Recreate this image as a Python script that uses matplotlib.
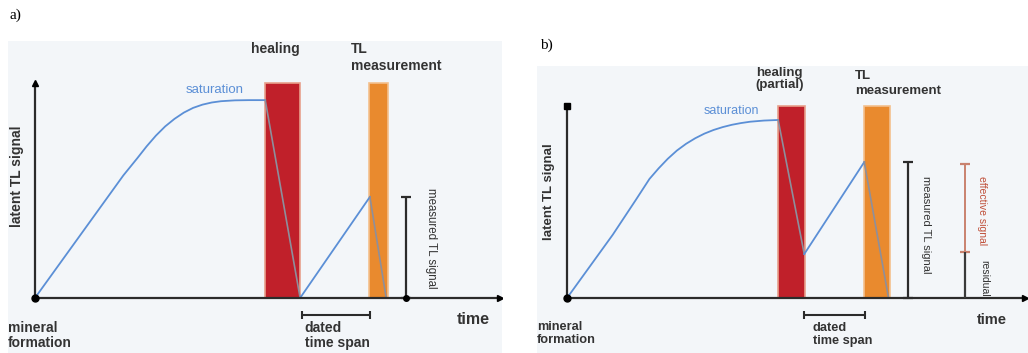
import matplotlib
matplotlib.use("Agg")
import matplotlib.pyplot as plt

W, H = 1028, 353
fig = plt.figure(figsize=(W / 100, H / 100), dpi=100)
fig.patch.set_facecolor("white")

SANS = ["Liberation Sans", "DejaVu Sans"]
SERIF = ["Liberation Serif", "DejaVu Serif"]

BG = "#f3f6f9"
RED = "#c0202a"
ORANGE = "#e98a2e"
BLUE = "#5b8fd6"
GRAY = "#8d8f9c"
DARK = "#2b2b2b"
TXT = "#333333"

# ---------------- data (time units 0..100, signal units 0..100) ----------------
# panel a
a_growth_t = [0, 5, 10, 15, 19, 22, 24, 26, 28, 30, 32, 34, 36, 38, 40, 43, 46, 49.5]
a_growth_s = [0, 15, 30, 45, 57, 65, 70.5, 75.5, 79.8, 83.3, 86.2, 88.4, 89.9, 90.9,
              91.5, 91.9, 92, 92]
a_heat = (49.5, 57.0)          # heating bar start/end
a_meas = (71.8, 75.9)          # TL measurement bar start/end
a_heat_drop = [(49.5, 92), (57.0, 0)]
a_regrowth = [(57.0, 0), (72.0, 47)]
a_meas_drop = [(72.0, 47), (75.5, 0)]
a_measured_signal = 47
a_measured_x = 79.8

# panel b
b_growth_t = [0, 5, 10, 15, 18, 20, 22, 24, 26, 28, 30, 32, 34, 36, 38, 40, 43, 46.1]
b_growth_s = [0, 16.5, 33, 51, 62, 67.5, 72.5, 76.8, 80.3, 83.2, 85.6, 87.5, 89.0,
              90.2, 91.1, 91.8, 92.4, 92.7]
b_heat = (46.1, 52.0)
b_meas = (64.8, 70.5)
b_heat_drop = [(46.1, 92.7), (51.8, 22.9)]
b_regrowth = [(51.8, 22.9), (64.9, 70.8)]
b_meas_drop = [(64.9, 70.8), (70.2, 0)]
b_measured_signal = 70.8
b_measured_x = 74.5
b_residual = 24
b_effective_top = 69.8
b_effective_x = 86.9


def panel_axes(px0, py0, px1, py1, xlim, ylim):
    ax = fig.add_axes([px0 / W, 1 - py1 / H, (px1 - px0) / W, (py1 - py0) / H])
    ax.set_xlim(*xlim)
    ax.set_ylim(*ylim)
    ax.set_facecolor(BG)
    for s in ax.spines.values():
        s.set_visible(False)
    ax.set_xticks([])
    ax.set_yticks([])
    return ax


def draw_common(ax, growth_t, growth_s, heat, meas, heat_drop, regrowth, meas_drop,
                ytop_marker):
    ax.bar((heat[0] + heat[1]) / 2, 100, width=heat[1] - heat[0], bottom=0,
           color=RED, edgecolor="#e8a08c", linewidth=1.2, zorder=2)
    ax.bar((meas[0] + meas[1]) / 2, 100, width=meas[1] - meas[0], bottom=0,
           color=ORANGE, edgecolor="#f3c08e", linewidth=1.2, zorder=2)
    ax.plot([0, 100], [0, 0], color=DARK, lw=1.6, zorder=4, solid_capstyle="butt")
    ax.plot([0, 0], [0, 100], color=DARK, lw=1.6, zorder=4, solid_capstyle="butt")
    ax.plot([100], [0], marker=">", color="black", ms=5, zorder=5)
    ax.plot([0], [100], marker=ytop_marker, color="black", ms=5, zorder=5)
    ax.plot([0], [0], marker="o", color="black", ms=5, zorder=5)
    ax.plot(growth_t, growth_s, color=BLUE, lw=1.3, zorder=3)
    ax.plot(*zip(*heat_drop), color=GRAY, lw=1.2, zorder=3)
    ax.plot(*zip(*regrowth), color=BLUE, lw=1.3, zorder=3)
    ax.plot(*zip(*meas_drop), color=GRAY, lw=1.2, zorder=3)


def ibar(ax, x, y0, y1, color, lw=1.6, caps=(True, True)):
    ax.plot([x, x], [y0, y1], color=color, lw=lw, zorder=4, solid_capstyle="butt")
    if caps[1]:
        ax.plot([x], [y1], marker="_", ms=7, mew=1.6, color=color, zorder=4)
    if caps[0]:
        ax.plot([x], [y0], marker="_", ms=7, mew=1.6, color=color, zorder=4)


def bracket(ax, t0, t1, y):
    ax.plot([t0, t1], [y, y], color=DARK, lw=1.5, solid_capstyle="butt")
    ax.plot([t0, t1], [y, y], marker="|", ms=6, mew=1.5, color=DARK, lw=0)


def label(ax, x, y, s, size=10, **kw):
    kw.setdefault("color", TXT)
    kw.setdefault("fontweight", "bold")
    ax.text(x, y, s, fontsize=size, family=SANS, **kw)


# ---------------- panel a ----------------
axa = panel_axes(8, 41, 502, 353, (-5.8, 100.4), (-25.6, 119.5))
draw_common(axa, a_growth_t, a_growth_s, a_heat, a_meas, a_heat_drop, a_regrowth,
            a_meas_drop, "^")
ibar(axa, a_measured_x, 0, a_measured_signal, DARK)
axa.plot([a_measured_x], [0], marker="o", ms=4, color="black", zorder=5)
label(axa, 85.2, 27.9, "measured TL signal", size=8.3, rotation=270, ha="center",
      va="center", fontweight="normal")
label(axa, 46.5, 119.0, "healing", ha="left", va="top")
label(axa, 67.9, 119.0, "TL\nmeasurement", ha="left", va="top", linespacing=1.3)
label(axa, 38.7, 96.9, "saturation", size=9.5, ha="center", va="center", color=BLUE,
      fontweight="normal")
label(axa, -3.9, 56.5, "latent TL signal", rotation=90, ha="center", va="center")
label(axa, -5.9, -10.8, "mineral\nformation", ha="left", va="top", linespacing=1.1)
label(axa, 58.0, -10.8, "dated\ntime span", ha="left", va="top", linespacing=1.1)
label(axa, 90.6, -10.0, "time", size=11.5, ha="left", va="center")
bracket(axa, 57.5, 72.0, -8.0)

# ---------------- panel b ----------------
axb = panel_axes(537, 66, 1028, 353, (-6.55, 100.65), (-28.6, 120.8))
draw_common(axb, b_growth_t, b_growth_s, b_heat, b_meas, b_heat_drop, b_regrowth,
            b_meas_drop, "s")
ibar(axb, b_measured_x, 0, b_measured_signal, DARK)
ibar(axb, b_effective_x, b_residual, b_effective_top, "#c9826f", lw=1.4)
ibar(axb, b_effective_x, 0, b_residual, "#3a3a3a", caps=(False, False))
label(axb, 78.3, 38, "measured TL signal", size=8.0, rotation=270, ha="center",
      va="center", fontweight="normal")
label(axb, 90.6, 45.8, "effective signal", size=7.5, rotation=270, ha="center",
      va="center", color="#c0503a", fontweight="normal")
label(axb, 91.0, 10.4, "residual", size=7.5, rotation=270, ha="center", va="center",
      fontweight="normal")
label(axb, 41.2, 120.3, "healing\n(partial)", size=9.5, ha="left", va="top",
      linespacing=1.05)
label(axb, 62.8, 118.9, "TL\nmeasurement", size=9.5, ha="left", va="top",
      linespacing=1.35)
label(axb, 36.0, 97.2, "saturation", size=9, ha="center", va="center", color=BLUE,
      fontweight="normal")
label(axb, -3.9, 55.5, "latent TL signal", size=9.5, rotation=90, ha="center",
      va="center")
label(axb, -6.5, -12.0, "mineral\nformation", size=9.2, ha="left", va="top",
      linespacing=1.15)
label(axb, 53.7, -12.5, "dated\ntime span", size=9.2, ha="left", va="top",
      linespacing=1.15)
label(axb, 89.5, -11.5, "time", size=10.5, ha="left", va="center")
bracket(axb, 51.8, 65.0, -9.0)

# panel letters
fig.text(10 / W, 1 - 15 / H, "a)", ha="left", va="center", fontsize=11, family=SERIF)
fig.text(540 / W, 1 - 45 / H, "b)", ha="left", va="center", fontsize=11, family=SERIF)

fig.savefig("out.png", dpi=100, facecolor="white")
